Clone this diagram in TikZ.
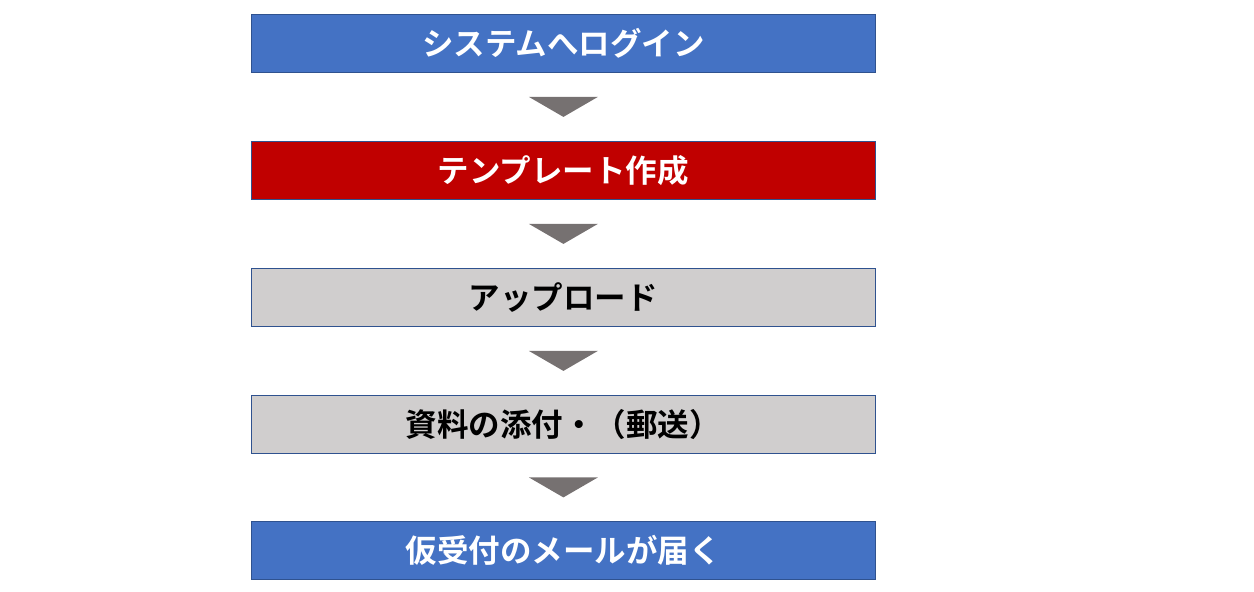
\documentclass[tikz,border=0pt]{standalone}
\usepackage{fontspec}
\newfontfamily\cjk{Noto Sans CJK JP}[BoldFont={* Bold}]
\definecolor{boxblue}{HTML}{4472C4}
\definecolor{boxred}{HTML}{C00000}
\definecolor{boxgray}{HTML}{D0CECE}
\definecolor{edgeblue}{HTML}{2F528F}
\definecolor{arrowgray}{HTML}{767171}
\begin{document}
\begin{tikzpicture}[x=1pt,y=-1pt,
  stepbox/.style={draw=edgeblue,line width=0.8pt,minimum width=624pt,minimum height=58pt,inner sep=0pt,anchor=north west,font=\cjk\bfseries\fontsize{31.5}{36}\selectfont},
  downtri/.style={fill=arrowgray,draw=none}]
\useasboundingbox (0,0) rectangle (1254,592);
\node[stepbox,fill=boxblue,text=white] (s1) at (251,14) {システムへログイン};
\node[stepbox,fill=boxred,text=white] (s2) at (251,141) {テンプレート作成};
\node[stepbox,fill=boxgray,text=black] (s3) at (251,268) {アップロード};
\node[stepbox,fill=boxgray,text=black] (s4) at (251,395) {資料の添付・（郵送）};
\node[stepbox,fill=boxblue,text=white] (s5) at (251,521) {仮受付のメールが届く};
\foreach \a/\b in {s1/s2,s2/s3,s3/s4,s4/s5}{
  \path (\a.south) -- (\b.north) coordinate[pos=0.5] (m\a);
  \fill[arrowgray] ([xshift=-34.5pt,yshift=10pt]m\a) -- ([xshift=34.5pt,yshift=10pt]m\a) -- ([yshift=-10pt]m\a) -- cycle;
}
\end{tikzpicture}
\end{document}
